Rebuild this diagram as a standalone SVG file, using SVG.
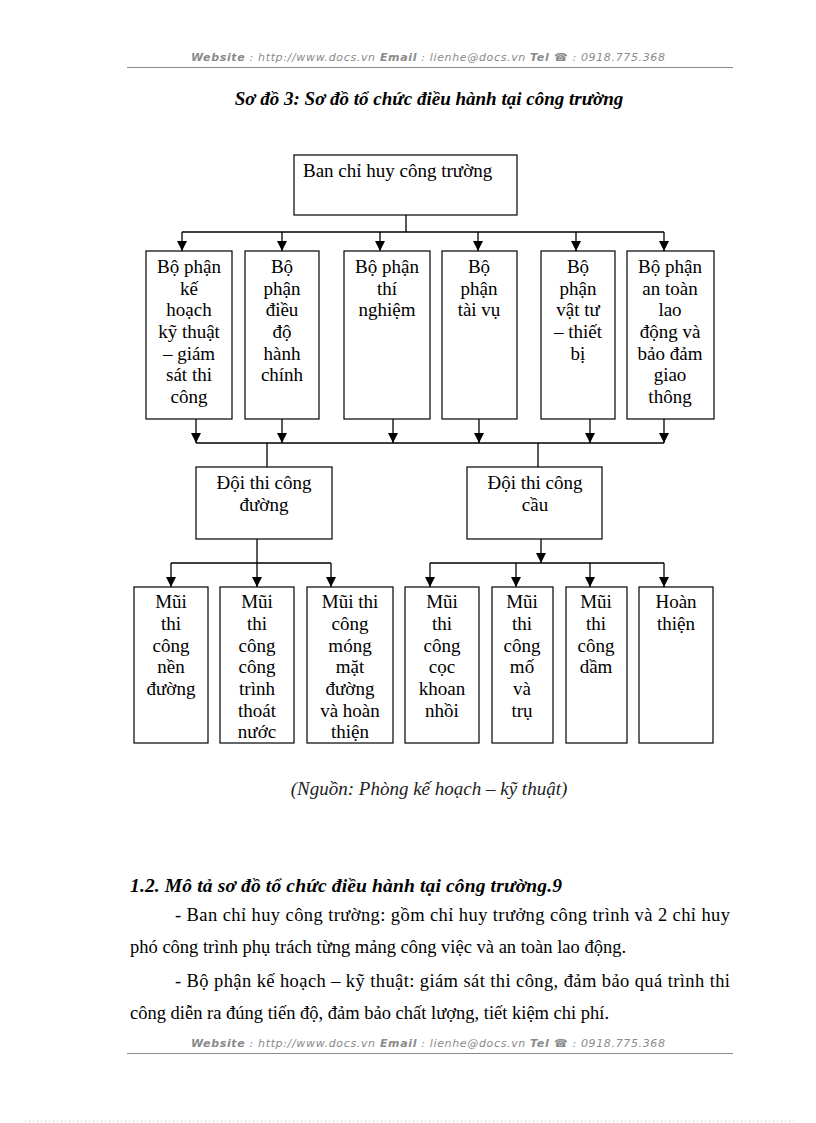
<svg xmlns="http://www.w3.org/2000/svg" width="816" height="1123" viewBox="0 0 816 1123">
<defs>
<style>
.hdr{font-family:"DejaVu Sans","Liberation Sans",sans-serif;font-size:11px;font-style:italic;fill:#8a8a8a}
.hb{font-weight:bold}
.rule{stroke:#8a8a8a;stroke-width:1}
.box{fill:#fff;stroke:#000;stroke-width:1.2}
.nt{font-family:"Liberation Serif","Times New Roman",serif;font-size:19px;fill:#000;text-anchor:middle}
.ln{fill:none;stroke:#000;stroke-width:1.3}
.title{font-family:"Liberation Serif","Times New Roman",serif;font-size:19px;font-weight:bold;font-style:italic;fill:#000}
.body{font-family:"Liberation Serif","Times New Roman",serif;font-size:18.5px;fill:#000}
</style>
<marker id="arr" markerUnits="userSpaceOnUse" markerWidth="10" markerHeight="10" viewBox="0 0 10 10" refX="10" refY="5" orient="auto">
<path d="M0,0 L10,5 L0,10 Z" fill="#000"/>
</marker>
</defs>
<rect width="816" height="1123" fill="#fff"/>

<g id="header">
<text class="hdr" x="191" y="61" textLength="474"><tspan class="hb">Website</tspan> : http://www.docs.vn  <tspan class="hb">Email</tspan>  : lienhe@docs.vn   <tspan class="hb">Tel ☎</tspan> : 0918.775.368</text>
<line class="rule" x1="127" y1="67.5" x2="733" y2="67.5"/>
</g>

<text class="title" x="429" y="105" text-anchor="middle">Sơ đồ 3: Sơ đồ tổ chức điều hành tại công trường</text>

<g id="connectors">
<path class="ln" d="M406,215 V232 M182,232 H664"/>
<path class="ln" marker-end="url(#arr)" d="M182,232 V251"/>
<path class="ln" marker-end="url(#arr)" d="M282,232 V251"/>
<path class="ln" marker-end="url(#arr)" d="M380,232 V251"/>
<path class="ln" marker-end="url(#arr)" d="M478,232 V251"/>
<path class="ln" marker-end="url(#arr)" d="M576,232 V251"/>
<path class="ln" marker-end="url(#arr)" d="M664,232 V251"/>

<path class="ln" d="M196,443 H664"/>
<path class="ln" marker-end="url(#arr)" d="M196,419 V443"/>
<path class="ln" marker-end="url(#arr)" d="M282,419 V443"/>
<path class="ln" marker-end="url(#arr)" d="M393,419 V443"/>
<path class="ln" marker-end="url(#arr)" d="M479,419 V443"/>
<path class="ln" marker-end="url(#arr)" d="M590,419 V443"/>
<path class="ln" marker-end="url(#arr)" d="M664,419 V443"/>

<path class="ln" d="M267,443 V467 M538,443 V467"/>

<path class="ln" d="M171,563 H331"/>
<path class="ln" marker-end="url(#arr)" d="M257,539 V587"/>
<path class="ln" marker-end="url(#arr)" d="M171,563 V587"/>
<path class="ln" marker-end="url(#arr)" d="M331,563 V587"/>

<path class="ln" d="M430,563 H664"/>
<path class="ln" marker-end="url(#arr)" d="M541,539 V563"/>
<path class="ln" marker-end="url(#arr)" d="M430,563 V587"/>
<path class="ln" marker-end="url(#arr)" d="M516,563 V587"/>
<path class="ln" marker-end="url(#arr)" d="M590,563 V587"/>
<path class="ln" marker-end="url(#arr)" d="M664,563 V587"/>
</g>

<g id="n-ban-chi-huy">
<rect class="box" x="294" y="155" width="223" height="60"/>
<text class="nt" x="303" y="177" style="text-anchor:start">Ban chỉ huy công trường</text>
</g>

<g id="n-ke-hoach">
<rect class="box" x="146" y="251" width="86" height="168"/>
<text class="nt"><tspan x="189" y="273">Bộ phận</tspan><tspan x="189" y="295">kế</tspan><tspan x="189" y="316">hoạch</tspan><tspan x="189" y="338">kỹ thuật</tspan><tspan x="189" y="360">– giám</tspan><tspan x="189" y="381">sát thi</tspan><tspan x="189" y="403">công</tspan></text>
</g>
<g id="n-dieu-do">
<rect class="box" x="245" y="251" width="74" height="168"/>
<text class="nt"><tspan x="282" y="273">Bộ</tspan><tspan x="282" y="295">phận</tspan><tspan x="282" y="316">điều</tspan><tspan x="282" y="338">độ</tspan><tspan x="282" y="360">hành</tspan><tspan x="282" y="381">chính</tspan></text>
</g>
<g id="n-thi-nghiem">
<rect class="box" x="344" y="251" width="86" height="168"/>
<text class="nt"><tspan x="387" y="273">Bộ phận</tspan><tspan x="387" y="295">thí</tspan><tspan x="387" y="316">nghiệm</tspan></text>
</g>
<g id="n-tai-vu">
<rect class="box" x="442" y="251" width="75" height="168"/>
<text class="nt"><tspan x="479" y="273">Bộ</tspan><tspan x="479" y="295">phận</tspan><tspan x="479" y="316">tài vụ</tspan></text>
</g>
<g id="n-vat-tu">
<rect class="box" x="541" y="251" width="74" height="168"/>
<text class="nt"><tspan x="578" y="273">Bộ</tspan><tspan x="578" y="295">phận</tspan><tspan x="578" y="316">vật tư</tspan><tspan x="578" y="338">– thiết</tspan><tspan x="578" y="360">bị</tspan></text>
</g>
<g id="n-an-toan">
<rect class="box" x="627" y="251" width="87" height="168"/>
<text class="nt"><tspan x="670" y="273">Bộ phận</tspan><tspan x="670" y="295">an toàn</tspan><tspan x="670" y="316">lao</tspan><tspan x="670" y="338">động và</tspan><tspan x="670" y="360">bảo đảm</tspan><tspan x="670" y="381">giao</tspan><tspan x="670" y="403">thông</tspan></text>
</g>

<g id="n-doi-duong">
<rect class="box" x="196" y="467" width="136" height="72"/>
<text class="nt"><tspan x="264" y="489">Đội thi công</tspan><tspan x="264" y="511">đường</tspan></text>
</g>
<g id="n-doi-cau">
<rect class="box" x="467" y="467" width="135" height="72"/>
<text class="nt"><tspan x="535" y="489">Đội thi công</tspan><tspan x="535" y="511">cầu</tspan></text>
</g>

<g id="n-nen-duong">
<rect class="box" x="134" y="587" width="74" height="156"/>
<text class="nt"><tspan x="171" y="608">Mũi</tspan><tspan x="171" y="630">thi</tspan><tspan x="171" y="652">công</tspan><tspan x="171" y="673">nền</tspan><tspan x="171" y="695">đường</tspan></text>
</g>
<g id="n-thoat-nuoc">
<rect class="box" x="220" y="587" width="74" height="156"/>
<text class="nt"><tspan x="257" y="608">Mũi</tspan><tspan x="257" y="630">thi</tspan><tspan x="257" y="652">công</tspan><tspan x="257" y="673">công</tspan><tspan x="257" y="695">trình</tspan><tspan x="257" y="717">thoát</tspan><tspan x="257" y="738">nước</tspan></text>
</g>
<g id="n-mong-mat">
<rect class="box" x="307" y="587" width="86" height="156"/>
<text class="nt"><tspan x="350" y="608">Mũi thi</tspan><tspan x="350" y="630">công</tspan><tspan x="350" y="652">móng</tspan><tspan x="350" y="673">mặt</tspan><tspan x="350" y="695">đường</tspan><tspan x="350" y="717">và hoàn</tspan><tspan x="350" y="738">thiện</tspan></text>
</g>
<g id="n-coc-khoan">
<rect class="box" x="405" y="587" width="74" height="156"/>
<text class="nt"><tspan x="442" y="608">Mũi</tspan><tspan x="442" y="630">thi</tspan><tspan x="442" y="652">công</tspan><tspan x="442" y="673">cọc</tspan><tspan x="442" y="695">khoan</tspan><tspan x="442" y="717">nhồi</tspan></text>
</g>
<g id="n-mo-tru">
<rect class="box" x="492" y="587" width="61" height="156"/>
<text class="nt"><tspan x="522" y="608">Mũi</tspan><tspan x="522" y="630">thi</tspan><tspan x="522" y="652">công</tspan><tspan x="522" y="673">mố</tspan><tspan x="522" y="695">và</tspan><tspan x="522" y="717">trụ</tspan></text>
</g>
<g id="n-dam">
<rect class="box" x="566" y="587" width="61" height="156"/>
<text class="nt"><tspan x="596" y="608">Mũi</tspan><tspan x="596" y="630">thi</tspan><tspan x="596" y="652">công</tspan><tspan x="596" y="673">dầm</tspan></text>
</g>
<g id="n-hoan-thien">
<rect class="box" x="639" y="587" width="74" height="156"/>
<text class="nt"><tspan x="676" y="608">Hoàn</tspan><tspan x="676" y="630">thiện</tspan></text>
</g>

<text x="429" y="795" text-anchor="middle" style="font-family:'Liberation Serif','Times New Roman',serif;font-size:19px;font-style:italic;fill:#222">(Nguồn: Phòng kế hoạch – kỹ thuật)</text>

<text class="title" x="130" y="892" style="font-size:19.5px" textLength="432" lengthAdjust="spacing">1.2.  Mô tả sơ đồ tổ chức điều hành tại công trường.9</text>

<text class="body" x="175" y="921" textLength="555" lengthAdjust="spacing">- Ban chỉ huy công trường: gồm chỉ huy trưởng công trình và 2 chỉ huy</text>
<text class="body" x="130" y="953">phó công trình phụ trách từng mảng công việc và an toàn lao động.</text>
<text class="body" x="175" y="987" textLength="555" lengthAdjust="spacing">- Bộ phận kế hoạch – kỹ thuật: giám sát thi công, đảm bảo quá trình thi</text>
<text class="body" x="130" y="1019">công diễn ra đúng tiến độ, đảm bảo chất lượng, tiết kiệm chi phí.</text>

<g id="footer">
<text class="hdr" x="191" y="1047" textLength="474"><tspan class="hb">Website</tspan> : http://www.docs.vn  <tspan class="hb">Email</tspan>  : lienhe@docs.vn   <tspan class="hb">Tel ☎</tspan> : 0918.775.368</text>
<line class="rule" x1="127" y1="1053.5" x2="733" y2="1053.5"/>
<line x1="25" y1="1121" x2="795" y2="1121" stroke="#c8c8c8" stroke-width="1" stroke-dasharray="1,3"/>
</g>
</svg>
